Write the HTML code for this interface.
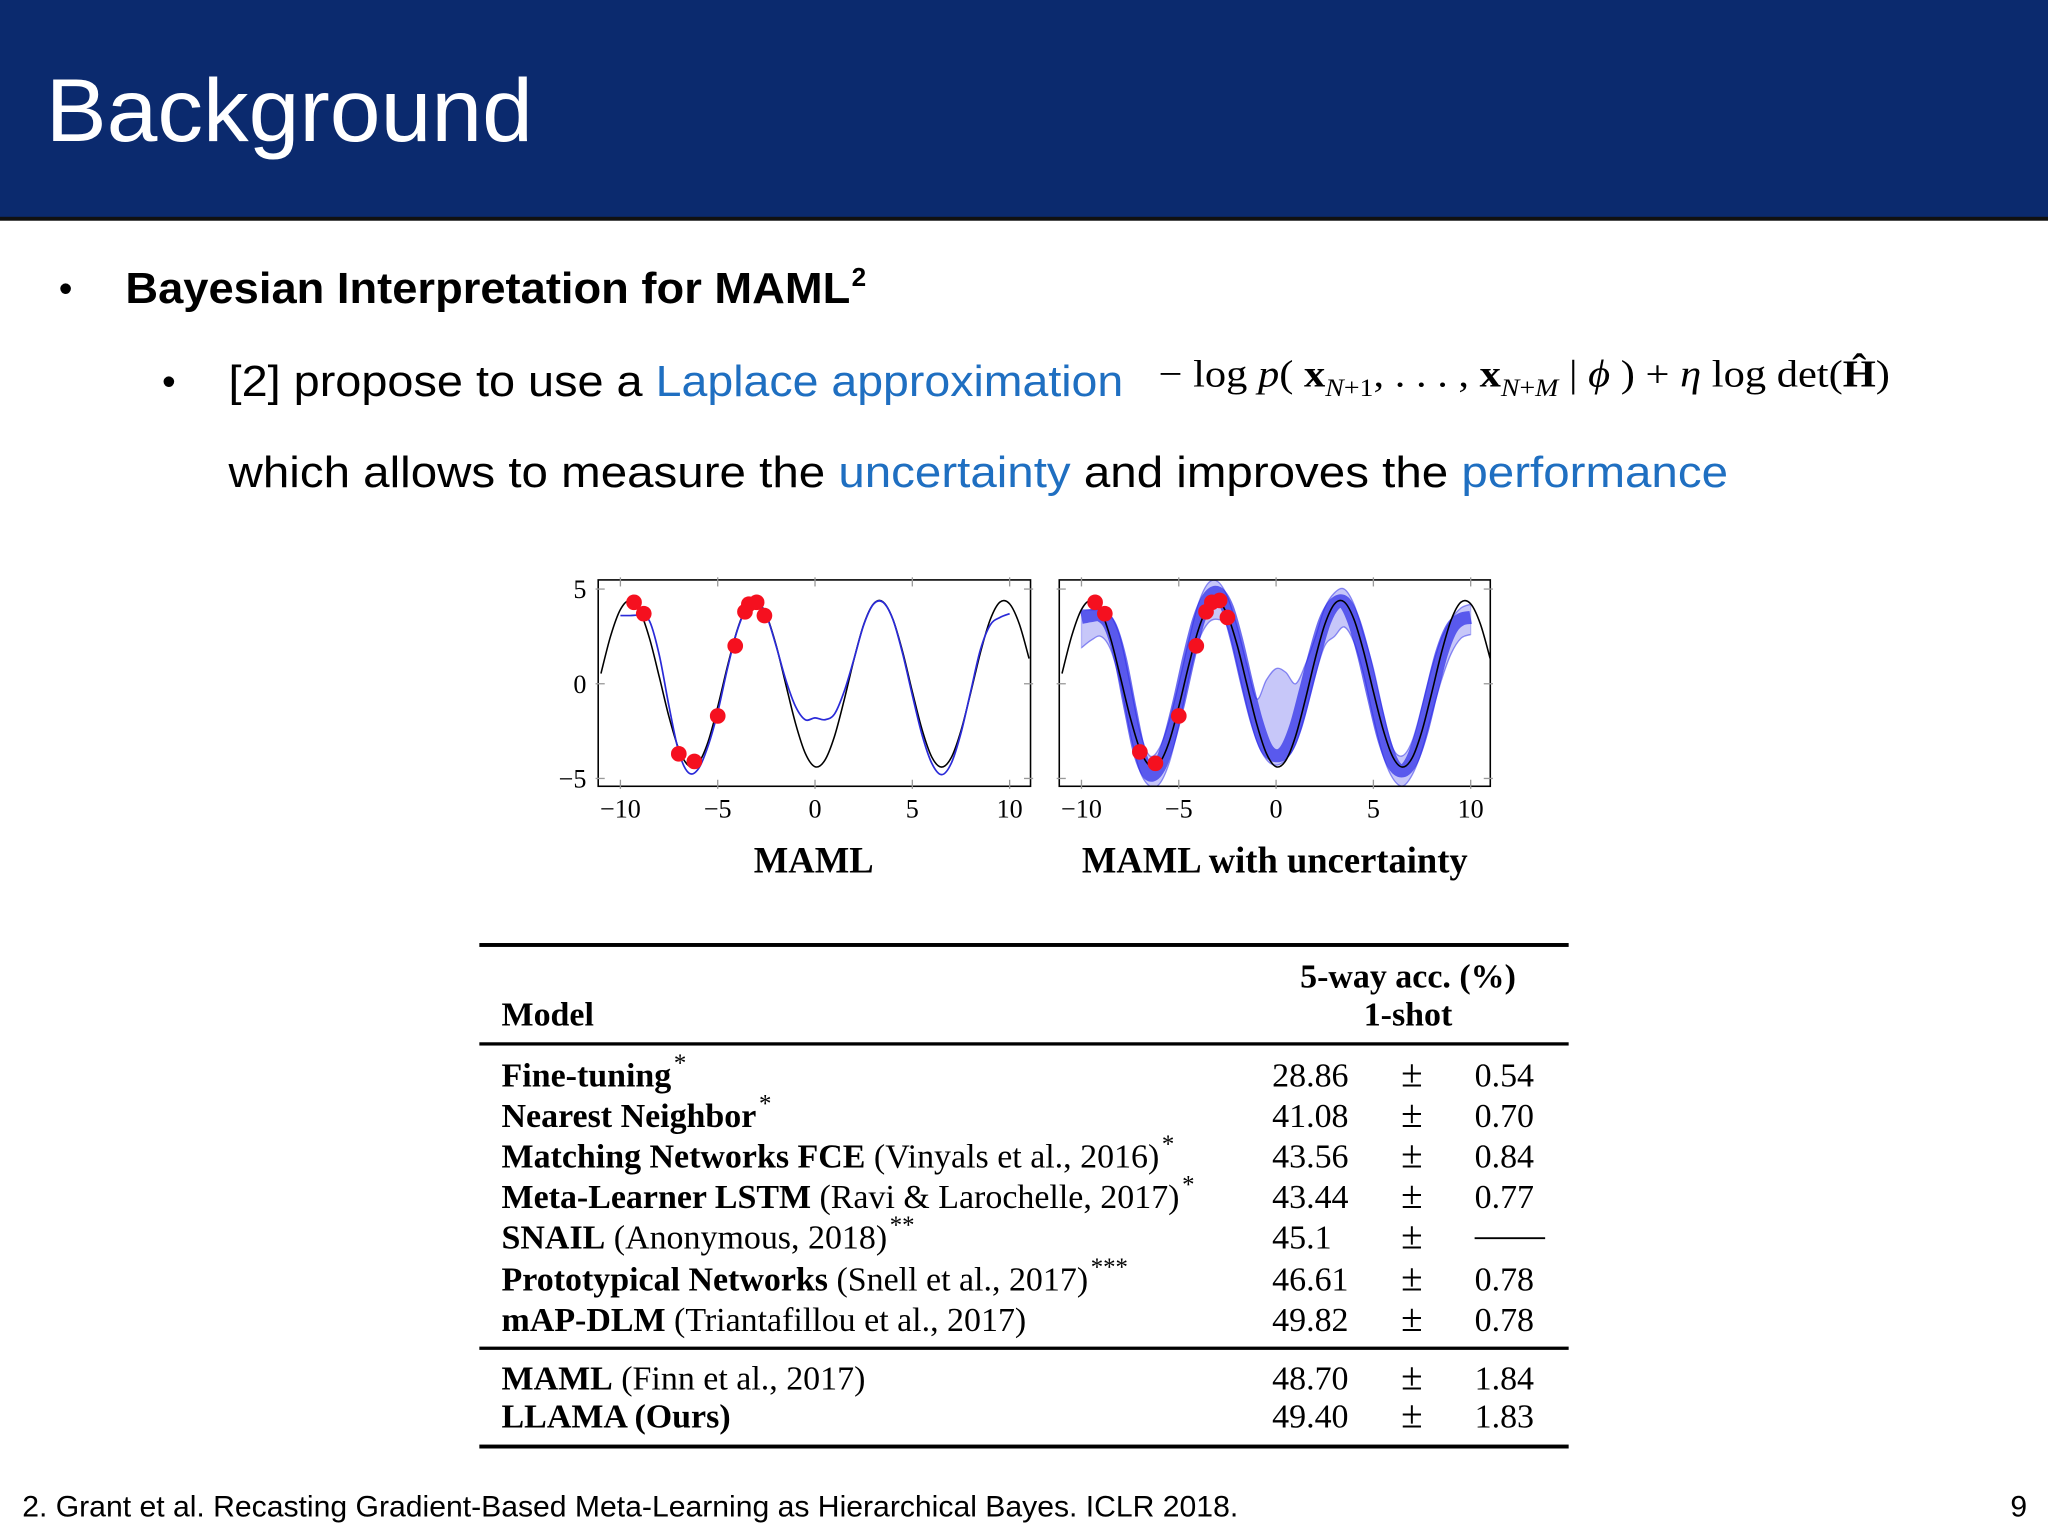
<!DOCTYPE html>
<html><head><meta charset="utf-8"><style>html,body{margin:0;padding:0;background:#fff}svg{display:block}</style></head>
<body>
<svg id="slide" xmlns="http://www.w3.org/2000/svg" width="2048" height="1536" viewBox="0 0 1568 1176">
<rect x="0" y="0" width="1568" height="1176" fill="#fff"/>
<g>
<rect x="0" y="0" width="1568" height="168" fill="#0b2a6e"/>
<rect x="0" y="166" width="1568" height="3" fill="#111"/>
<text x="35" y="108" font-family="Liberation Sans, sans-serif" font-size="68" fill="#fff" textLength="373" lengthAdjust="spacingAndGlyphs">Background</text>
</g>
<g font-family="Liberation Sans, sans-serif" font-size="33">
<text x="45" y="231" font-size="30">•</text>
<text x="96" y="232" font-weight="bold" textLength="555" lengthAdjust="spacingAndGlyphs">Bayesian Interpretation for MAML</text>
<text x="652" y="219" font-weight="bold" font-size="20">2</text>
<text x="124" y="302" font-size="30">•</text>
<text x="175" y="303" textLength="317" lengthAdjust="spacingAndGlyphs">[2] propose to use a</text>
<text x="502" y="303" fill="#1f6fc1" textLength="358" lengthAdjust="spacingAndGlyphs">Laplace approximation</text>
<text x="887" y="296" font-family="Liberation Serif, serif" font-size="29" textLength="560" lengthAdjust="spacingAndGlyphs">− log <tspan font-style="italic">p</tspan>( <tspan font-weight="bold">x</tspan><tspan font-size="19" dy="7" font-style="italic">N</tspan><tspan font-size="19">+1</tspan><tspan dy="-7">, . . . , </tspan><tspan font-weight="bold">x</tspan><tspan font-size="19" dy="7" font-style="italic">N</tspan><tspan font-size="19">+</tspan><tspan font-size="19" font-style="italic">M</tspan><tspan dy="-7"> | </tspan><tspan font-style="italic">ϕ</tspan> ) + <tspan font-style="italic">η</tspan> log det(<tspan font-weight="bold">Ĥ</tspan>)</text>
<text x="175" y="373" textLength="1148" lengthAdjust="spacingAndGlyphs">which allows to measure the <tspan fill="#1f6fc1">uncertainty</tspan> and improves the <tspan fill="#1f6fc1">performance</tspan></text>
</g>

<defs>
<clipPath id="clip1"><rect x="458" y="444" width="331" height="158"/></clipPath>
<clipPath id="clip2"><rect x="811" y="444" width="330" height="158"/></clipPath>
</defs>
<g id="plot1"></g>
<g id="plot2"></g>
<text x="623" y="668" text-anchor="middle" font-family="Liberation Serif, serif" font-weight="bold" font-size="28">MAML</text>
<text x="976" y="668" text-anchor="middle" font-family="Liberation Serif, serif" font-weight="bold" font-size="28">MAML with uncertainty</text>

<g font-family="Liberation Serif, serif" font-size="26">
<rect x="367" y="722" width="834" height="3" fill="#000"/>
<text x="1078" y="756" text-anchor="middle" font-weight="bold">5-way acc. (%)</text>
<text x="1078" y="785" text-anchor="middle" font-weight="bold">1-shot</text>
<text x="384" y="785" font-weight="bold">Model</text>
<rect x="367" y="798" width="834" height="2.5" fill="#000"/>
<g id="rows"></g>
<rect x="367" y="1031" width="834" height="2.5" fill="#000"/>
<rect x="367" y="1106" width="834" height="3" fill="#000"/>
</g>
<text x="17" y="1161" font-family="Liberation Sans, sans-serif" font-size="23" textLength="931" lengthAdjust="spacingAndGlyphs">2. Grant et al. Recasting Gradient-Based Meta-Learning as Hierarchical Bayes. ICLR 2018.</text>
<text x="1552" y="1161" text-anchor="end" font-family="Liberation Sans, sans-serif" font-size="23">9</text>
</svg>
<script>
const NS='http://www.w3.org/2000/svg';
const xGrid=[-11,-10.5,-10,-9.5,-9,-8.5,-8,-7.5,-7,-6.5,-6,-5.5,-5,-4.5,-4,-3.5,-3,-2.5,-2,-1.5,-1,-0.5,0,0.5,1,1.5,2,2.5,3,3.5,4,4.5,5,5.5,6,6.5,7,7.5,8,8.5,9,9.5,10,10.5,11];
const truthY=[0.54,2.53,3.92,4.40,3.84,2.38,0.35,-1.76,-3.45,-4.32,-4.19,-3.08,-1.22,0.92,2.83,4.08,4.37,3.63,2.04,-0.04,-2.10,-3.67,-4.38,-4.05,-2.78,-0.85,1.28,3.12,4.21,4.32,3.41,1.70,-0.42,-2.42,-3.87,-4.40,-3.90,-2.48,-0.47,1.65,3.38,4.31,4.22,3.15,1.33];
const xFit=[-10,-9.5,-9,-8.5,-8,-7.5,-7,-6.5,-6,-5.5,-5,-4.5,-4,-3.5,-3,-2.5,-2,-1.5,-1,-0.5,0,0.5,1,1.5,2,2.5,3,3.5,4,4.5,5,5.5,6,6.5,7,7.5,8,8.5,9,9.5,10];
const mamlY=[3.6,3.6,3.6,3.3,1.5,-1.2,-3.6,-4.7,-4.5,-3.3,-1.5,0.8,2.8,4.0,4.3,3.6,2.0,0.2,-1.2,-1.9,-1.8,-1.9,-1.6,-0.4,1.3,3.1,4.2,4.3,3.4,1.6,-0.6,-2.7,-4.2,-4.8,-4.2,-2.6,-0.4,1.8,3.1,3.5,3.7];
const meanY=[3.5,3.6,3.6,3.0,1.3,-1.3,-3.7,-4.8,-4.4,-3.0,-1.0,1.3,3.3,4.5,4.8,4.0,2.2,0,-2.0,-3.4,-3.8,-3.5,-2.3,-0.4,1.6,3.3,4.2,4.3,3.3,1.5,-0.7,-2.8,-4.2,-4.6,-4.0,-2.5,-0.4,1.6,2.9,3.4,3.5];
const upperY=[3.9,3.9,3.9,3.6,2.4,0,-2.5,-3.8,-3.4,-2.0,0,2.2,4.2,5.3,5.4,4.6,3.0,1.0,-0.8,0.2,0.8,0.6,0.0,1.0,2.4,4.0,4.8,5.0,4.2,2.6,0.8,-1.5,-3.4,-3.8,-3.0,-1.2,0.8,2.4,3.4,4.0,4.2];
const lowerY=[1.9,2.3,2.5,1.8,0,-2.6,-4.6,-5.4,-5.3,-4.2,-2.2,0.2,2.2,3.2,3.4,3.0,1.0,-1.2,-3.0,-4.0,-4.3,-4.0,-3.2,-1.6,0.4,2.0,2.5,3.0,2.2,0.5,-1.8,-3.8,-5.0,-5.4,-4.8,-3.5,-1.6,0.2,1.6,2.4,2.6];
const ptsX1=[-9.3,-8.8,-7.0,-6.2,-5.0,-4.1,-3.6,-3.4,-3.0,-2.6];
const ptsY1=[4.3,3.7,-3.7,-4.1,-1.7,2.0,3.8,4.2,4.3,3.6];
const ptsX2=[-9.3,-8.8,-7.0,-6.2,-5.0,-4.1,-3.6,-3.3,-2.9,-2.5];
const ptsY2=[4.3,3.7,-3.6,-4.2,-1.7,2.0,3.8,4.3,4.4,3.5];
const xTicks=[-10,-5,0,5,10];
const xTickLabels=['−10','−5','0','5','10'];
const yTicks=[5,0,-5];
const yTickLabels=['5','0','−5'];

function mk(tag,attrs,parent){const e=document.createElementNS(NS,tag);for(const k in attrs)e.setAttribute(k,attrs[k]);parent.appendChild(e);return e;}
function crPath(pts){let d='M'+pts[0][0].toFixed(2)+','+pts[0][1].toFixed(2);
 for(let i=0;i<pts.length-1;i++){const p0=pts[Math.max(i-1,0)],p1=pts[i],p2=pts[i+1],p3=pts[Math.min(i+2,pts.length-1)];
  const c1=[p1[0]+(p2[0]-p0[0])/6,p1[1]+(p2[1]-p0[1])/6],c2=[p2[0]-(p3[0]-p1[0])/6,p2[1]-(p3[1]-p1[1])/6];
  d+='C'+c1[0].toFixed(2)+','+c1[1].toFixed(2)+' '+c2[0].toFixed(2)+','+c2[1].toFixed(2)+' '+p2[0].toFixed(2)+','+p2[1].toFixed(2);}
 return d;}
function panel(g,left,width,x10n,x10p,clip){
 const sx=v=>x10n+(v+10)*(x10p-x10n)/20, sy=v=>451+(5-v)*(596-451)/10;
 const top=444,h=158;
 const o={sx,sy};
 o.frame=()=>{
  const fr=mk('rect',{x:left,y:top,width:width,height:h,fill:'none',stroke:'#000','stroke-width':1.2},g);
  
  xTicks.forEach((t,i)=>{
   const a=mk('line',{x1:sx(t),x2:sx(t),y1:top-2,y2:top+5,stroke:'#999','stroke-width':1},g);
   
   const b=mk('line',{x1:sx(t),x2:sx(t),y1:top+h-5,y2:top+h+2,stroke:'#999','stroke-width':1},g);
   
   const lb=mk('text',{x:sx(t),y:626,'text-anchor':'middle','font-family':'Liberation Serif, serif','font-size':20},g);
   lb.textContent=xTickLabels[i];
  });
  yTicks.forEach((t,i)=>{
   const a=mk('line',{x1:left-2,x2:left+5,y1:sy(t),y2:sy(t),stroke:'#999','stroke-width':1},g);
   
   const b=mk('line',{x1:left+width-5,x2:left+width+2,y1:sy(t),y2:sy(t),stroke:'#999','stroke-width':1},g);
   
  });
 };
 o.line=(xs,ys,attrs,name)=>{const p=mk('path',Object.assign({d:crPath(xs.map((x,i)=>[sx(x),sy(ys[i])])),fill:'none','clip-path':'url(#'+clip+')'},attrs),g);
  return p;};
 o.band=(xs,lo,hi,name)=>{const up=xs.map((x,i)=>[sx(x),sy(hi[i])]);const dn=xs.map((x,i)=>[sx(x),sy(lo[i])]).reverse();
  const d=crPath(up)+'L'+crPath(dn).slice(1)+'Z';
  const p=mk('path',{d:d,fill:'rgba(70,70,235,0.3)',stroke:'rgba(70,70,235,0.3)','stroke-width':1,'clip-path':'url(#'+clip+')'},g);
  };
 o.dots=(xs,ys,name)=>{xs.forEach((x,i)=>{const c=mk('circle',{cx:sx(x),cy:sy(ys[i]),r:6,fill:'#f5101f'},g);
  });};
 return o;
}
const g1=document.getElementById('plot1');
const p1=panel(g1,458,331,475,773,'clip1');
p1.line(xGrid,truthY,{stroke:'#000','stroke-width':1.2},'ground-truth-curve');
p1.line(xFit,mamlY,{stroke:'#2a2ad8','stroke-width':1.3},'maml-fit-curve');
p1.dots(ptsX1,ptsY1,'sample-point');
p1.frame();
yTicks.forEach((t,i)=>{const lb=mk('text',{x:449,y:p1.sy(t)+7,'text-anchor':'end','font-family':'Liberation Serif, serif','font-size':20},g1);
 lb.textContent=yTickLabels[i];});

const g2=document.getElementById('plot2');
const p2=panel(g2,811,330,828,1126,'clip2');
p2.band(xFit,lowerY,upperY,'uncertainty-band');
p2.line(xFit,upperY,{stroke:'rgba(60,60,235,0.4)','stroke-width':1},'sample-curve-upper');
p2.line(xFit,lowerY,{stroke:'rgba(60,60,235,0.4)','stroke-width':1},'sample-curve-lower');
p2.line(xFit,meanY,{stroke:'rgba(30,30,230,0.65)','stroke-width':10},'posterior-mean-curve');
p2.line(xGrid,truthY,{stroke:'#000','stroke-width':1.2},'ground-truth-curve');
p2.dots(ptsX2,ptsY2,'sample-point');
p2.frame();

const rowBold=['Fine-tuning','Nearest Neighbor','Matching Networks FCE','Meta-Learner LSTM','SNAIL','Prototypical Networks','mAP-DLM','MAML','LLAMA'];
const rowCite=['','',' (Vinyals et al., 2016)',' (Ravi & Larochelle, 2017)',' (Anonymous, 2018)',' (Snell et al., 2017)',' (Triantafillou et al., 2017)',' (Finn et al., 2017)',' (Ours)'];
const rowStar=['*','*','*','*','**','***','','',''];
const rowAcc=['28.86','41.08','43.56','43.44','45.1','46.61','49.82','48.70','49.40'];
const rowErr=['0.54','0.70','0.84','0.77','','0.78','0.78','1.84','1.83'];
const rowY=[832,863,894,925,956,988,1019,1064,1093];
const rows=document.getElementById('rows');
rowBold.forEach((b,i)=>{
 const t=mk('text',{x:384,y:rowY[i]},rows);
 
 const s1=mk('tspan',{'font-weight':'bold'},t);s1.textContent=b;
 if(i===8){s1.textContent='LLAMA (Ours)';}else{const s2=mk('tspan',{},t);s2.textContent=rowCite[i];}
 if(rowStar[i]){const s3=mk('tspan',{'font-size':19,dy:-12,dx:2},t);s3.textContent=rowStar[i];}
 const a=mk('text',{x:974,y:rowY[i]},rows);
 a.textContent=rowAcc[i];
 const pm=mk('text',{x:1081,y:rowY[i],'text-anchor':'middle','font-size':30},rows);
 pm.textContent='±';
 if(rowErr[i]){const e=mk('text',{x:1129,y:rowY[i]},rows);
  e.textContent=rowErr[i];}
 else{const e=mk('line',{x1:1129,x2:1183,y1:rowY[i]-8,y2:rowY[i]-8,stroke:'#000','stroke-width':1.5},rows);
  }
});
</script>
</body></html>
